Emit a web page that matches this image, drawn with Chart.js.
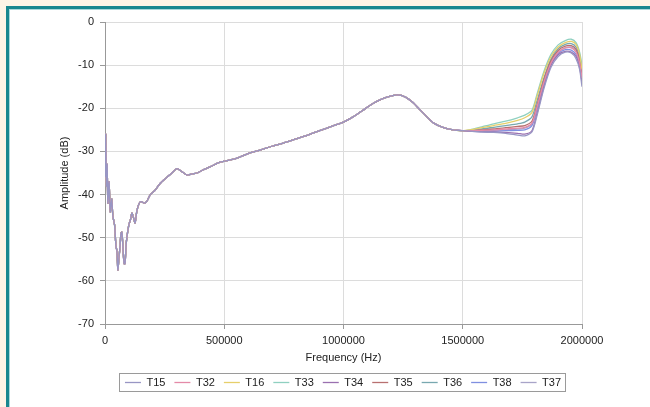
<!DOCTYPE html>
<html>
<head>
<meta charset="utf-8">
<script src="https://cdn.jsdelivr.net/npm/chart.js@4"></script>
<style>
  html, body { margin: 0; padding: 0; background: #fcf4e6; }
  #wrap { width: 650px; height: 407px; }
</style>
</head>
<body>
<div id="wrap"><canvas id="ampChart" width="650" height="407"></canvas></div>
<script>
const seriesNames = ['T15', 'T32', 'T16', 'T33', 'T34', 'T35', 'T36', 'T38', 'T37'];
const seriesColors = ['#9896c4', '#e48aa8', '#e6cf6a', '#8fd0c0', '#9a70b0', '#b87070', '#78a8b0', '#7f8fe0', '#a8a4c8'];

// shared part of the sweep, all traces lie on top of each other here
const freqCommon = [0, 3000, 6000, 9000, 12000, 17000, 22000, 28000, 33000, 40000, 46000, 50000, 54000, 58000, 63000, 67000, 71000,
    76000, 80000, 84000, 88000, 92000, 100000, 106000, 113000, 120000, 126000, 133000, 140000, 148000, 155000, 165000, 176000,
    190000, 210000, 230000, 260000, 280000, 302000, 320000, 344000, 365000, 386000, 410000, 440000, 482000, 540000, 600000,
    650000, 700000, 750000, 800000, 850000, 900000, 950000, 1000000, 1040000, 1080000, 1120000, 1155000, 1190000, 1225000,
    1260000, 1290000, 1320000, 1350000, 1380000, 1420000, 1460000, 1500000];
const ampCommon = [-36, -26, -38, -33, -42, -37, -44, -41, -45, -47, -52, -53, -57.5, -55, -52, -49, -48.7,
    -53, -56, -56, -52, -49.8, -47, -46, -44.3, -45.5, -46.6, -44, -42.5, -41.7, -41.7, -42, -41.5,
    -40, -39, -37.5, -36, -35, -34, -34.6, -35.5, -35.2, -35, -34.3, -33.6, -32.5, -31.8, -30.5,
    -29.7, -28.8, -28, -27.1, -26.2, -25.2, -24.2, -23.2, -22, -20.5, -19, -18, -17.3, -16.9,
    -17.4, -18.6, -20.3, -22, -23.5, -24.5, -25, -25.2];

// high end, where the traces split
const freqTail = [1530000, 1580000, 1630000, 1680000, 1730000, 1760000, 1790000, 1810000, 1840000, 1870000, 1900000,
    1930000, 1955000, 1975000, 1990000, 2000000];
const t15Tail = [-25.3, -25.5, -25.6, -25.8, -26.2, -26.4, -25.5, -22, -15.5, -10.5, -8, -7, -7.2, -8.5, -11, -15];
const t32Tail = [-25.2, -25.1, -25, -24.8, -24.6, -24.4, -23.5, -20, -14, -9.5, -7, -6, -6, -7, -9.5, -13];
const t16Tail = [-25, -24.5, -24, -23.5, -22.8, -22.2, -21, -17.5, -12, -8, -5.8, -4.8, -4.5, -5.2, -7.5, -11];
const t33Tail = [-25, -24.3, -23.6, -23, -22.2, -21.6, -20.5, -17, -11.5, -7.5, -5.3, -4.3, -4, -4.8, -7, -10];
const t34Tail = [-25.3, -25.4, -25.5, -25.6, -25.8, -26, -25.2, -21.5, -15, -10, -7.6, -6.8, -7, -8, -10.5, -14];
const t35Tail = [-25.2, -25, -24.8, -24.5, -24.2, -24, -23, -19.5, -13.5, -9, -6.6, -5.6, -5.5, -6.3, -9, -12.5];
const t36Tail = [-25.1, -24.8, -24.4, -24, -23.6, -23.2, -22, -18.5, -13, -8.6, -6.2, -5.2, -5, -5.8, -8.2, -12];
const t38Tail = [-25.3, -25.3, -25.3, -25.2, -25.1, -25, -24, -20.5, -14.5, -9.8, -7.3, -6.4, -6.5, -7.5, -10, -14];
const t37Tail = [-25.2, -25.2, -25.1, -25, -24.8, -24.6, -23.6, -20, -14, -9.4, -7, -6, -5.8, -6.6, -9, -13];
const tails = [t15Tail, t32Tail, t16Tail, t33Tail, t34Tail, t35Tail, t36Tail, t38Tail, t37Tail];

const xTicks = [0, 500000, 1000000, 1500000, 2000000];
const yTicks = [0, -10, -20, -30, -40, -50, -60, -70];

const font = { family: "'Liberation Sans', Arial, sans-serif", size: 11 };

const datasets = seriesNames.map((name, k) => {
    const pts = freqCommon.map((x, i) => ({ x, y: ampCommon[i] }));
    freqTail.forEach((x, i) => pts.push({ x, y: tails[k][i] }));
    return {
        label: name,
        data: pts,
        borderColor: seriesColors[k],
        backgroundColor: seriesColors[k],
        borderWidth: 1.3,
        pointRadius: 0,
        tension: 0.25,
        fill: false
    };
});

const framePlugin = {
    id: 'frame',
    afterLayout(chart) {
        // legend sits a bit right of centre in the original
        chart.legend.left += 27;
        chart.legend.right += 27;
    },
    beforeDraw(chart) {
        const c = chart.ctx;
        c.save();
        c.fillStyle = '#fcf4e6';
        c.fillRect(0, 0, chart.width, chart.height);
        c.fillStyle = '#17878f';
        c.fillRect(6, 6, chart.width, chart.height);
        c.fillStyle = '#a8d8da';
        c.fillRect(9, 9, chart.width, chart.height);
        c.fillStyle = '#ffffff';
        c.fillRect(10, 10, chart.width, chart.height);
        c.restore();
    },
    afterDraw(chart) {
        const boxes = chart.legend.legendHitBoxes;
        if (!boxes || !boxes.length) return;
        const left = Math.min(...boxes.map(b => b.left)) - 6;
        const right = Math.max(...boxes.map(b => b.left + b.width)) + 4;
        const top = Math.min(...boxes.map(b => b.top)) - 4;
        const bottom = Math.max(...boxes.map(b => b.top + b.height)) + 3;
        const c = chart.ctx;
        c.save();
        c.strokeStyle = '#9a9a9a';
        c.lineWidth = 1;
        c.strokeRect(Math.round(left) + 0.5, Math.round(top) + 0.5, Math.round(right - left), Math.round(bottom - top));
        c.restore();
    }
};

new Chart(document.getElementById('ampChart'), {
    type: 'line',
    data: { datasets },
    plugins: [framePlugin],
    options: {
        responsive: false,
        animation: false,
        layout: { padding: { left: 50, right: 68, top: 22, bottom: 9 } },
        plugins: {
            legend: {
                position: 'bottom',
                labels: {
                    font,
                    color: '#222',
                    usePointStyle: true,
                    pointStyle: 'line',
                    pointStyleWidth: 16,
                    padding: 9
                }
            },
            tooltip: { enabled: false }
        },
        scales: {
            x: {
                type: 'linear',
                min: 0,
                max: 2000000,
                afterBuildTicks(s) { s.ticks = xTicks.map(v => ({ value: v })); },
                afterFit(s) { s.height = 44; s.paddingLeft = 0; s.paddingRight = 0; },
                ticks: { font, color: '#222', padding: 5, maxRotation: 0, callback: v => String(v) },
                grid: { color: '#dcdcdc', tickLength: 5, tickColor: '#999' },
                border: { color: '#999' },
                title: { display: true, text: 'Frequency (Hz)', font, color: '#222', padding: { top: 0, bottom: 3 } }
            },
            y: {
                min: -70,
                max: 0,
                afterBuildTicks(s) { s.ticks = yTicks.map(v => ({ value: v })); },
                afterFit(s) { s.width = 55; s.paddingTop = 0; s.paddingBottom = 0; },
                ticks: { font, color: '#222', padding: 6 },
                grid: { color: '#dcdcdc', tickLength: 5, tickColor: '#999' },
                border: { color: '#999' },
                title: { display: true, text: 'Amplitude (dB)', font, color: '#222', padding: { top: 8, bottom: 0 } }
            }
        }
    }
});
</script>
</body>
</html>
